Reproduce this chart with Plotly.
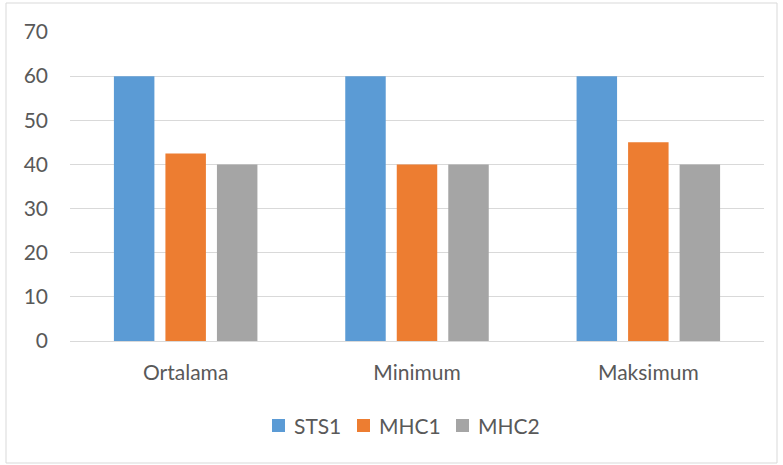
import plotly.graph_objects as go

categories = ["Ortalama", "Minimum", "Maksimum"]
sts1 = [60, 60, 60]
mhc1 = [42.5, 40, 45]
mhc2 = [40, 40, 40]
series_names = ["STS1", "MHC1", "MHC2"]
series_colors = ["#5B9BD5", "#ED7D31", "#A5A5A5"]
y_ticks = [0, 10, 20, 30, 40, 50, 60, 70]

font_family = "Lato, 'Open Sans', sans-serif"
text_color = "#595959"
font_size = 21

fig = go.Figure()
for name, vals, color in zip(series_names, [sts1, mhc1, mhc2], series_colors):
    fig.add_trace(go.Bar(x=categories, y=vals, name=name, marker_color=color,
                         marker_line_width=0, showlegend=False))

W, H = 783, 465
ml, mr, mt, mb = 70, 19, 32, 124
pw, ph = W - ml - mr, H - mt - mb

def px_x(px):
    return (px - ml) / pw

def px_y(py):
    return (H - mb - py) / ph

# legend drawn as swatches + labels below the axis
legend_swatch_left = [272, 357, 456]
legend_text_left = [292, 377, 476]
legend_y_top, legend_y_bot = 419, 432

shapes = [dict(type="rect", xref="paper", yref="paper",
               x0=px_x(6), x1=px_x(777), y0=px_y(463), y1=px_y(3),
               line=dict(color="#D9D9D9", width=1), layer="below")]
annotations = []
for name, color, sx, tx in zip(series_names, series_colors,
                               legend_swatch_left, legend_text_left):
    shapes.append(dict(type="rect", xref="paper", yref="paper",
                       x0=px_x(sx), x1=px_x(sx + 13),
                       y0=px_y(legend_y_bot), y1=px_y(legend_y_top),
                       fillcolor=color, line=dict(width=0)))
    annotations.append(dict(text=name, xref="paper", yref="paper",
                            x=px_x(tx), y=px_y((legend_y_top + legend_y_bot) / 2),
                            xanchor="left", yanchor="middle", showarrow=False,
                            font=dict(size=font_size, color=text_color)))

fig.update_layout(
    width=W, height=H,
    margin=dict(l=ml, r=mr, t=mt, b=mb),
    paper_bgcolor="white", plot_bgcolor="white",
    barmode="group", bargap=0.332, bargroupgap=0.214,
    font=dict(family=font_family, size=font_size, color=text_color),
    showlegend=False,
    xaxis=dict(showgrid=False, showline=False, ticks="",
               ticklabelstandoff=17, tickfont=dict(size=font_size)),
    yaxis=dict(range=[0, 70], tickvals=y_ticks, showgrid=True,
               gridcolor="#D9D9D9", gridwidth=1.3, zeroline=True,
               zerolinecolor="#D9D9D9", zerolinewidth=1.3, ticks="",
               showline=False, ticklabelstandoff=21, tickfont=dict(size=font_size)),
    shapes=shapes,
    annotations=annotations,
)

fig.write_html("out.html")
